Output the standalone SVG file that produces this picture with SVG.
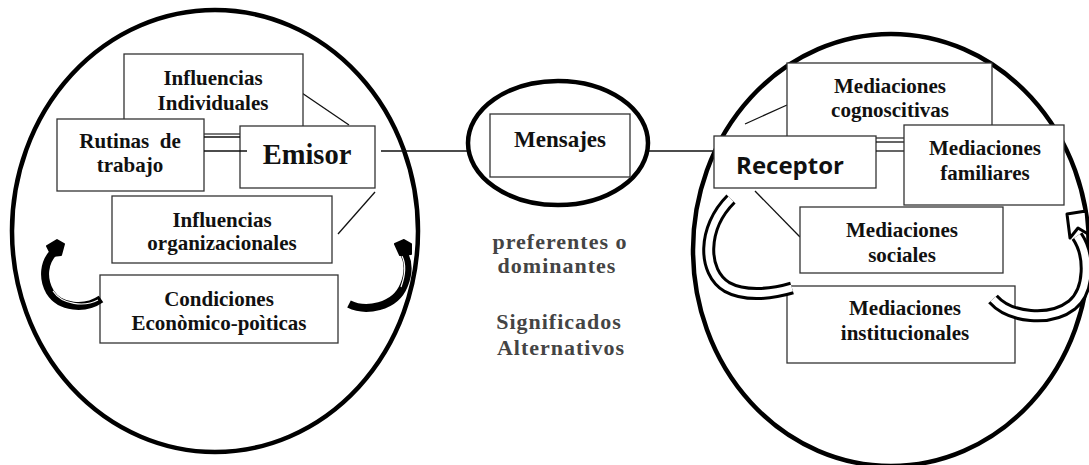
<svg xmlns="http://www.w3.org/2000/svg" width="1089" height="465" viewBox="0 0 1089 465">
<style>
.big{fill:none;stroke:#000;stroke-width:4.5}
.box{fill:#fff;stroke:#333;stroke-width:1.3}
.ln{stroke:#111;stroke-width:1.3;fill:none}
.t{font-family:"Liberation Serif","Times New Roman",serif;font-weight:bold;font-size:21px;fill:#111;text-anchor:middle}
.g{font-family:"Liberation Serif","Times New Roman",serif;font-weight:bold;font-size:22px;letter-spacing:1px;fill:#444;text-anchor:middle}
.bandA{fill:none;stroke:#000;stroke-width:8}
.bandB{fill:none;stroke:#000;stroke-width:13}
.bandBi{fill:none;stroke:#fff;stroke-width:7}
.headA{fill:#000;stroke:#000;stroke-width:2;stroke-linejoin:round}
.headB{fill:#fff;stroke:#000;stroke-width:3;stroke-linejoin:round}
</style>
<rect width="1089" height="465" fill="#fff"/>
<g id="circles">
<ellipse class="big" cx="215" cy="231" rx="203" ry="221"/>
<ellipse class="big" cx="891" cy="250" rx="198" ry="216"/>
</g>
<g id="connectors">
<line class="ln" x1="381" y1="151" x2="469" y2="151"/>
<line class="ln" x1="648" y1="151" x2="716" y2="151"/>
<line class="ln" x1="299" y1="91" x2="349" y2="125"/>
<line class="ln" x1="375" y1="192" x2="338" y2="234"/>
<line class="ln" x1="787" y1="105" x2="745" y2="124"/>
<line class="ln" x1="755" y1="191" x2="800" y2="237"/>
</g>
<g id="n-influencias-individuales">
<rect class="box" x="124" y="54" width="179" height="80"/>
<text class="t" x="213" y="85">Influencias</text>
<text class="t" x="213" y="110">Individuales</text>
</g>
<g id="n-rutinas">
<rect class="box" x="57" y="119" width="147" height="72"/>
<text class="t" x="130" y="148" xml:space="preserve">Rutinas  de</text>
<text class="t" x="130" y="172">trabajo</text>
</g>
<g id="n-emisor">
<rect class="box" x="240" y="126" width="135" height="62"/>
<text class="t" x="307" y="164" style="font-size:28.5px">Emisor</text>
</g>
<g id="links-emisor">
<line class="ln" x1="204" y1="137" x2="240" y2="137"/>
<line class="ln" x1="204" y1="151" x2="247" y2="151"/>
</g>
<g id="n-influencias-organizacionales">
<rect class="box" x="112" y="196" width="220" height="67"/>
<text class="t" x="222" y="227">Influencias</text>
<text class="t" x="222" y="250">organizacionales</text>
</g>
<g id="n-condiciones">
<rect class="box" x="100" y="275" width="238" height="68"/>
<text class="t" x="219" y="306">Condiciones</text>
<text class="t" x="219" y="330">Econòmico-poìticas</text>
</g>
<g id="n-mensajes">
<ellipse class="big" cx="558" cy="143" rx="90" ry="62"/>
<rect class="box" x="490" y="114" width="140" height="63"/>
<text class="t" x="560" y="147" style="font-size:23px">Mensajes</text>
</g>
<g id="middle-text">
<text class="g" x="560" y="249">preferentes o</text>
<text class="g" x="557" y="273">dominantes</text>
<text class="g" x="559" y="329">Significados</text>
<text class="g" x="561" y="355">Alternativos</text>
</g>
<g id="n-cognoscitivas">
<rect class="box" x="787" y="63" width="205" height="75"/>
<text class="t" x="890" y="93">Mediaciones</text>
<text class="t" x="890" y="117">cognoscitivas</text>
</g>
<g id="n-receptor">
<rect class="box" x="714" y="136" width="162" height="52"/>
<text x="790" y="174" style="font-family:'Open Sans','Liberation Sans',sans-serif;font-weight:bold;font-size:24px;fill:#111;text-anchor:middle">Receptor</text>
</g>
<g id="links-receptor">
<line class="ln" x1="876" y1="142" x2="904" y2="142"/>
<line class="ln" x1="876" y1="151" x2="904" y2="151"/>
</g>
<g id="n-familiares">
<rect class="box" x="904" y="125" width="160" height="80"/>
<text class="t" x="985" y="155">Mediaciones</text>
<text class="t" x="985" y="180">familiares</text>
</g>
<g id="n-sociales">
<rect class="box" x="800" y="207" width="203" height="66"/>
<text class="t" x="902" y="237">Mediaciones</text>
<text class="t" x="902" y="262">sociales</text>
</g>
<g id="n-institucionales">
<rect class="box" x="787" y="286" width="228" height="77"/>
<text class="t" x="905" y="315">Mediaciones</text>
<text class="t" x="905" y="340">institucionales</text>
</g>
<g id="curved-arrows">
<path class="bandA" d="M101 299 C85 310 60 308 50 292 C42 278 44 262 54 252"/>
<path class="bandA" style="stroke:#fff;stroke-width:1.2" d="M98 300 C85 307 62 305 53 291"/>
<polygon class="headA" points="47,246 57,240 64,244 61,255 52,256"/>
<path class="bandA" d="M349 304 C365 312 395 308 404 285 C410 270 408 260 403 252"/>
<path class="bandA" style="stroke:#fff;stroke-width:1.2" d="M401 287 C406 273 405 262 402 256"/>
<polygon class="headA" points="395,244 404,240 411,244 411,254 400,255"/>
<path class="bandB" d="M731 199 C702 228 702 272 727 287 C745 297 772 294 792 288"/>
<path class="bandBi" d="M731 199 C702 228 702 272 727 287 C745 297 772 294 792 288"/>
<path class="bandB" d="M993 299 C1010 318 1050 322 1072 305 C1090 290 1090 255 1077 236"/>
<path class="bandBi" d="M993 299 C1010 318 1050 322 1072 305 C1090 290 1090 255 1077 236"/>
<polygon class="headB" points="1067,214 1086,211 1088,234 1078,228 1070,238"/>
</g>
</svg>
